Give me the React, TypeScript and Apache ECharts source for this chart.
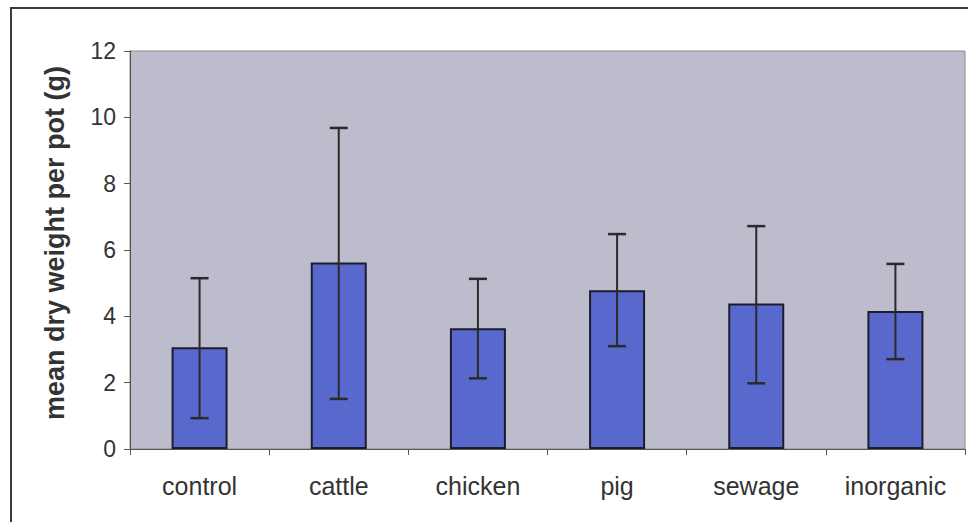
import React, { useEffect, useRef } from "react";
import * as echarts from "echarts";

const categories = ["control", "cattle", "chicken", "pig", "sewage", "inorganic"];
const means = [3.07, 5.62, 3.64, 4.79, 4.39, 4.16];
const errLow = [0.93, 1.51, 2.13, 3.1, 1.98, 2.71];
const errHigh = [5.15, 9.68, 5.13, 6.48, 6.72, 5.58];
const yTicks = { min: 0, max: 12, interval: 2 };
const yAxisTitle = "mean dry weight per pot (g)";

export default function App() {
  const ref = useRef<HTMLDivElement>(null);
  useEffect(() => {
    if (!ref.current) return;
    const chart = echarts.init(ref.current, null, { renderer: "svg" });
    const errData = categories.map((_, i) => [i, errLow[i], errHigh[i]]);
    chart.setOption({
      animation: false,
      backgroundColor: "#ffffff",
      textStyle: { fontFamily: "Liberation Sans, Arial, sans-serif" },
      graphic: [
        {
          type: "rect",
          shape: { x: 11, y: 8, width: 1000, height: 600 },
          style: { fill: "none", stroke: "#3a3a3a", lineWidth: 2 },
          silent: true,
        },
      ],
      grid: {
        left: 130,
        right: 3,
        top: 51,
        bottom: 73,
        show: true,
        backgroundColor: "#bcbccc",
        borderColor: "#8a8a8a",
        borderWidth: 1,
      },
      xAxis: {
        type: "category",
        data: categories,
        boundaryGap: true,
        axisLine: { show: true, lineStyle: { color: "#555555", width: 1 } },
        axisTick: { show: true, interval: 0, length: 6, lineStyle: { color: "#555555" } },
        axisLabel: {
          interval: 0,
          margin: 24,
          fontSize: 25,
          color: "#333333",
          fontFamily: "Liberation Sans, Arial, sans-serif",
        },
        splitLine: { show: false },
      },
      yAxis: {
        type: "value",
        min: yTicks.min,
        max: yTicks.max,
        interval: yTicks.interval,
        name: yAxisTitle,
        nameLocation: "middle",
        nameGap: 62,
        nameTextStyle: {
          fontSize: 27,
          fontWeight: "bold",
          color: "#333333",
          fontFamily: "Liberation Sans, Arial, sans-serif",
          padding: [0, 0, 0, 14],
        },
        axisLine: { show: true, lineStyle: { color: "#555555", width: 1 } },
        axisTick: { show: true, length: 6, lineStyle: { color: "#555555" } },
        axisLabel: {
          margin: 14,
          fontSize: 23,
          color: "#333333",
          fontFamily: "Liberation Sans, Arial, sans-serif",
        },
        splitLine: { show: false },
      },
      series: [
        {
          type: "bar",
          data: means,
          barWidth: 56,
          itemStyle: { color: "#5868cd", borderColor: "#1c1c2c", borderWidth: 2 },
        },
        {
          type: "custom",
          data: errData,
          z: 10,
          renderItem: (params: any, api: any) => {
            const idx = api.value(0);
            const lo = api.coord([idx, api.value(1)]);
            const hi = api.coord([idx, api.value(2)]);
            const half = 9;
            const style = { stroke: "#2a2a2a", lineWidth: 2 };
            return {
              type: "group",
              children: [
                { type: "line", shape: { x1: hi[0], y1: hi[1], x2: lo[0], y2: lo[1] }, style },
                { type: "line", shape: { x1: hi[0] - half, y1: hi[1], x2: hi[0] + half, y2: hi[1] }, style: { stroke: "#2a2a2a", lineWidth: 2.5 } },
                { type: "line", shape: { x1: lo[0] - half, y1: lo[1], x2: lo[0] + half, y2: lo[1] }, style: { stroke: "#2a2a2a", lineWidth: 2.5 } },
              ],
            };
          },
        },
      ],
    });
    return () => chart.dispose();
  }, []);
  return (
    <div
      ref={ref}
      style={{ position: "absolute", left: 0, top: 0, width: 968, height: 522 }}
    />
  );
}
